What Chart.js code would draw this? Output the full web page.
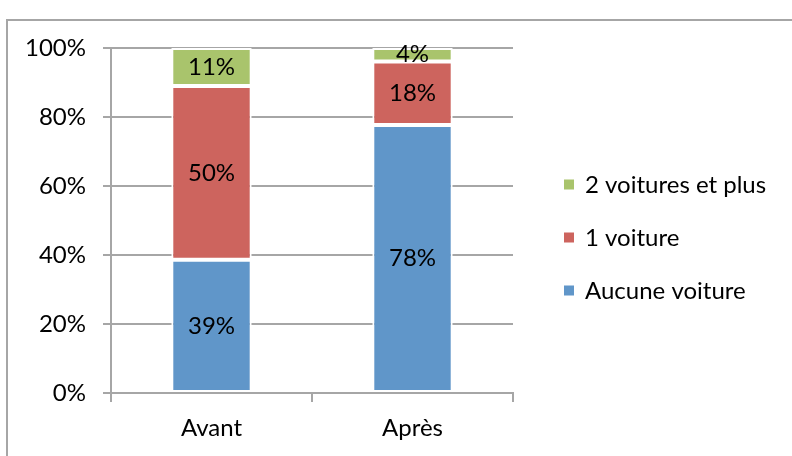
<!DOCTYPE html>
<html>
<head>
<meta charset="utf-8">
<script src="https://cdn.jsdelivr.net/npm/chart.js@4/dist/chart.umd.min.js"></script>
<style>
  html, body { margin: 0; padding: 0; background: #fff; }
  #wrap { position: relative; width: 792px; height: 456px; overflow: hidden; }
  #frame { position: absolute; left: 6px; top: 19px; width: 900px; height: 600px;
           border: 2px solid #a6a6a6; box-sizing: border-box; }
  canvas { position: absolute; left: 0; top: 0; }
</style>
</head>
<body>
<div id="wrap">
  <div id="frame"></div>
  <canvas id="chart" width="792" height="456"></canvas>
</div>
<script>
// categories and series (percent)
const categories = ['Avant', 'Après'];
const aucuneVoiture = [38.6, 77.7];
const uneVoiture = [50.4, 18.4];
const deuxVoituresEtPlus = [11.0, 3.9];
const yTicks = [0, 20, 40, 60, 80, 100];

const fontFamily = 'Lato, sans-serif';
const fontSize = 24;

// draw the % inside every segment
const segmentLabels = {
    id: 'segmentLabels',
    afterDatasetsDraw(chart) {
        const ctx = chart.ctx;
        ctx.save();
        ctx.font = fontSize + 'px ' + fontFamily;
        ctx.fillStyle = '#000';
        ctx.textAlign = 'center';
        ctx.textBaseline = 'middle';
        chart.data.datasets.forEach(function (ds, i) {
            chart.getDatasetMeta(i).data.forEach(function (bar, j) {
                const y = (bar.y + bar.base) / 2;
                ctx.fillText(Math.round(ds.data[j]) + '%', bar.x, y);
            });
        });
        ctx.restore();
    }
};

// legend on the right, top entry = last dataset
const sideLegend = {
    id: 'sideLegend',
    afterDraw(chart) {
        const ctx = chart.ctx;
        const area = chart.chartArea;
        const x = area.right + 51;
        const mid = (area.top + area.bottom) / 2;
        const step = 53;
        const sets = chart.data.datasets.slice().reverse();
        ctx.save();
        ctx.font = fontSize + 'px ' + fontFamily;
        ctx.textBaseline = 'middle';
        sets.forEach(function (ds, i) {
            const y = mid + (i - (sets.length - 1) / 2) * step + 17;
            ctx.fillStyle = ds.backgroundColor;
            ctx.fillRect(x, y - 5, 10, 10);
            ctx.fillStyle = '#000';
            ctx.fillText(ds.label, x + 21, y + 1);
        });
        ctx.restore();
    }
};

new Chart(document.getElementById('chart'), {
    type: 'bar',
    data: {
        labels: categories,
        datasets: [{
            label: 'Aucune voiture',
            data: aucuneVoiture,
            backgroundColor: '#6096c9',
            borderColor: '#fff',
            borderWidth: 2,
            borderSkipped: false,
        }, {
            label: '1 voiture',
            data: uneVoiture,
            backgroundColor: '#cd645e',
            borderColor: '#fff',
            borderWidth: 2,
            borderSkipped: false,
        }, {
            label: '2 voitures et plus',
            data: deuxVoituresEtPlus,
            backgroundColor: '#a9c46c',
            borderColor: '#fff',
            borderWidth: 2,
            borderSkipped: false,
        }]
    },
    options: {
        responsive: false,
        animation: false,
        barPercentage: 0.4,
        categoryPercentage: 1,
        layout: { padding: { left: 0, right: 279, top: 48, bottom: 0 } },
        plugins: {
            tooltip: { enabled: false },
            legend: { display: false }
        },
        scales: {
            x: {
                stacked: true,
                afterFit: function (axis) { axis.height = 63; },
                grid: { display: true, drawOnChartArea: false, offset: true, tickLength: 9, color: '#a6a6a6', lineWidth: 2 },
                border: { color: '#a6a6a6', width: 2 },
                ticks: { font: { family: fontFamily, size: fontSize }, color: '#000', padding: 12 }
            },
            y: {
                stacked: true,
                min: 0,
                max: 100,
                afterFit: function (axis) { axis.width = 111; },
                afterBuildTicks: function (axis) { axis.ticks = yTicks.map(v => ({ value: v })); },
                grid: { color: '#a6a6a6', lineWidth: 2, tickLength: 8 },
                border: { color: '#a6a6a6', width: 2 },
                ticks: {
                    font: { family: fontFamily, size: fontSize },
                    color: '#000',
                    padding: 17,
                    callback: v => v + '%'
                }
            }
        }
    },
    plugins: [segmentLabels, sideLegend]
});
</script>
</body>
</html>
